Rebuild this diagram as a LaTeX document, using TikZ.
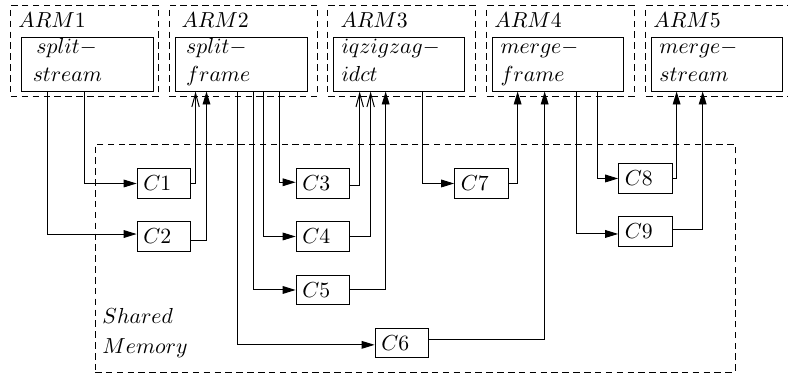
\documentclass[tikz,border=0pt]{standalone}
\usepackage{amsmath,amssymb}
\usepackage{tikz}
\usetikzlibrary{positioning, arrows.meta}
\newcommand{\twolines}[2]{\rule{0pt}{7pt}$#1$\\[0.8pt]$#2$\rule[-4.6pt]{0pt}{0pt}}

\begin{document}
\begin{tikzpicture}[
  line width=0.45pt,
  armbox/.style={draw, dash pattern=on 3pt off 2pt, minimum width=2.393cm, minimum height=1.471cm},
  stage/.style={draw, text width=1.86cm, inner xsep=0.135cm, inner ysep=0pt, align=left, minimum height=0.857cm},
  chan/.style={draw, text width=0.67cm, inner xsep=0.1cm, align=left, minimum height=0.43cm},
  tag/.style={anchor=base west, inner sep=0pt},
  fed/.style={-{Triangle[length=2.1mm, width=1.25mm]}},
  barb/.style={-{Straight Barb[length=2.2mm, width=1.2mm]}}
]
  \useasboundingbox (0,0) rectangle (12.742,-6.048);
  \node[armbox] (arm1) at (1.374,-0.825) {};
  \node[armbox] (arm2) at (3.937,-0.825) {};
  \node[armbox] (arm3) at (6.500,-0.825) {};
  \node[armbox] (arm4) at (9.071,-0.825) {};
  \node[armbox] (arm5) at (11.642,-0.825) {};
  \node[tag] (lbl1) at (0.291,-0.437) {$ARM1$};
  \node[tag] (lbl2) at (2.927,-0.437) {$ARM2$};
  \node[tag] (lbl3) at (5.498,-0.437) {$ARM3$};
  \node[tag] (lbl4) at (7.988,-0.437) {$ARM4$};
  \node[tag] (lbl5) at (10.559,-0.437) {$ARM5$};
  \node[stage, inner xsep=0.19cm, text width=1.754cm] (s1) at (1.407,-1.043) {\twolines{\,split-}{stream}};
  \node[stage, inner xsep=0.18cm, text width=1.774cm] (s2) at (3.897,-1.043) {\twolines{split-}{frame}};
  \node[stage] (s3) at (6.452,-1.043) {\twolines{iqzigzag-}{idct}};
  \node[stage] (s4) at (9.023,-1.043) {\twolines{merge-}{frame}};
  \node[stage] (s5) at (11.594,-1.043) {\twolines{merge-}{stream}};
  \node[armbox, minimum width=10.349cm, minimum height=3.687cm] (shm) at (6.711,-4.172) {};
  \node[tag, align=left] (shmlbl) at (1.649,-5.708) {$Shared$\\[1.7pt]$Memory$};
  \node[chan] (c1) at (2.652,-2.967) {$C1$};
  \node[chan] (c2) at (2.652,-3.824) {$C2$};
  \node[chan] (c3) at (5.223,-2.967) {$C3$};
  \node[chan] (c4) at (5.223,-3.824) {$C4$};
  \node[chan] (c5) at (5.223,-4.689) {$C5$};
  \node[chan] (c6) at (6.500,-5.546) {$C6$};
  \node[chan] (c7) at (7.786,-2.967) {$C7$};
  \node[chan] (c8) at (10.438,-2.886) {$C8$};
  \node[chan] (c9) at (10.438,-3.743) {$C9$};
  \draw[fed] ([xshift=1.035cm]s1.south west) |- (c1);
  \draw[fed] ([xshift=0.437cm]s1.south west) |- ([yshift=0.04cm]c2.west);
  \draw[barb] (c1) -| ([xshift=0.34cm]s2.south west);
  \draw[fed] ([yshift=-0.06cm]c2.east) -| ([xshift=0.517cm]s2.south west);
  \draw[fed] ([xshift=1.019cm]s2.south west) |- ([yshift=-0.03cm]c6.west);
  \draw[fed] ([xshift=1.277cm]s2.south west) |- (c5);
  \draw[fed] ([xshift=1.439cm]s2.south west) |- (c4);
  \draw[fed] ([xshift=1.698cm]s2.south west) |- ([yshift=0.02cm]c3.west);
  \draw[barb] ([yshift=-0.03cm]c3.east) -| ([xshift=0.437cm]s3.south west);
  \draw[barb] (c4) -| ([xshift=0.614cm]s3.south west);
  \draw[fed] (c5) -| ([xshift=0.857cm]s3.south west);
  \draw[fed] ([xshift=1.455cm]s3.south west) |- (c7);
  \draw[fed] (c7) -| ([xshift=0.42cm]s4.south west);
  \draw[fed] ([yshift=0.05cm]c6.east) -| ([xshift=0.857cm]s4.south west);
  \draw[fed] ([xshift=1.374cm]s4.south west) |- ([yshift=-0.04cm]c9.west);
  \draw[fed] ([xshift=1.714cm]s4.south west) |- (c8);
  \draw[fed] (c8) -| ([xshift=0.42cm]s5.south west);
  \draw[fed] ([yshift=0.04cm]c9.east) -| ([xshift=0.841cm]s5.south west);
\end{tikzpicture}
\end{document}
